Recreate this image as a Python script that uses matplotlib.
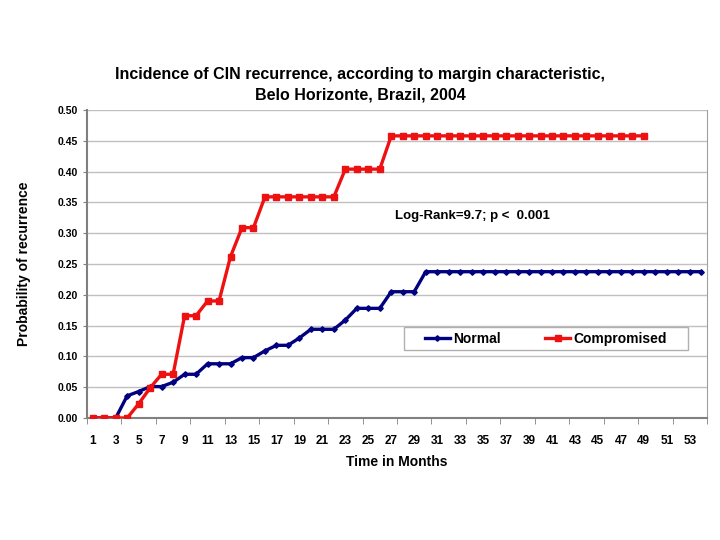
import matplotlib
matplotlib.use('Agg')
import matplotlib.pyplot as plt
from matplotlib.patches import Rectangle

plt.rcParams['font.family'] = ['Liberation Sans', 'DejaVu Sans']
plt.rcParams['font.weight'] = 'bold'

# Dados (meses e probabilidade acumulada de recorrência)
meses_normal = list(range(1, 55))
normal = [0.0, 0.0, 0.0, 0.036, 0.043, 0.051, 0.051, 0.058, 0.071, 0.071,
          0.088, 0.088, 0.088, 0.098, 0.098, 0.109, 0.118, 0.118, 0.130, 0.144,
          0.144, 0.144, 0.159, 0.178, 0.178, 0.178, 0.205, 0.205, 0.205] + [0.2375] * 25

meses_comp = list(range(1, 50))
comprometida = [0.0, 0.0, 0.0, 0.0, 0.023, 0.049, 0.071, 0.071, 0.166, 0.166,
                0.19, 0.19, 0.262, 0.309, 0.309] + [0.359] * 7 + [0.404] * 4 + [0.458] * 23

y_ticks = [0.00, 0.05, 0.10, 0.15, 0.20, 0.25, 0.30, 0.35, 0.40, 0.45, 0.50]
x_labels = list(range(1, 55, 2))

fig = plt.figure(figsize=(7.2, 5.4), dpi=100)
ax = fig.add_axes([87 / 720, 1 - 418 / 540, 620 / 720, 308 / 540])

ax.plot(meses_normal, normal, color='#000080', lw=2.4, marker='D', ms=2.8, label='Normal', zorder=3)
ax.plot(meses_comp, comprometida, color='#ee1111', lw=2.4, marker='s', ms=4, label='Compromised', zorder=4)

ax.set_xlim(0.5, 54.5)
ax.set_ylim(0, 0.5)
ax.set_yticks(y_ticks)
ax.set_yticklabels(['%.2f' % v for v in y_ticks], fontsize=7.5, fontweight='bold')
ax.set_xticks(x_labels)
ax.set_xticklabels([str(m) for m in x_labels], fontsize=8.5, fontweight='bold')
ax.tick_params(axis='x', length=0, pad=12)
ax.tick_params(axis='y', length=3, color='#808080')
ax.set_xticks([0.5 + 3 * i for i in range(19)], minor=True)
ax.tick_params(axis='x', which='minor', length=4, color='#808080')
ax.grid(axis='y', color='#c0c0c0', lw=1)
ax.set_axisbelow(True)
for lado in ['left', 'bottom']:
    ax.spines[lado].set_color('#808080')
    ax.spines[lado].set_linewidth(1.5)
ax.spines['right'].set_color('#a0a0a0')
ax.spines['top'].set_visible(False)

ax.set_xlabel('Time in Months', fontsize=10, fontweight='bold', labelpad=6)
ax.set_ylabel('Probability of recurrence', fontsize=10, fontweight='bold', labelpad=19)

fig.text(0.5, 1 - 75 / 540, 'Incidence of CIN recurrence, according to margin characteristic,',
         ha='center', va='center', fontsize=11.5, fontweight='bold')
fig.text(0.5, 1 - 95 / 540, 'Belo Horizonte, Brazil, 2004',
         ha='center', va='center', fontsize=11.5, fontweight='bold')

ax.text(27.3, 0.328, 'Log-Rank=9.7; p <  0.001', fontsize=9.5, fontweight='bold', va='center')

# caixa da legenda
caixa = Rectangle((0.511, 0.221), 0.458, 0.0747, transform=ax.transAxes,
                  facecolor='white', edgecolor='#b0b0b0', lw=1, zorder=5)
ax.add_patch(caixa)
leg = ax.legend(loc='center', bbox_to_anchor=(0.740, 0.258), ncol=2, frameon=False,
                fontsize=10, handlelength=1.8, handletextpad=0.25, columnspacing=3.2,
                borderpad=0, borderaxespad=0)
leg.set_zorder(6)

plt.savefig('out.png', dpi=100)
